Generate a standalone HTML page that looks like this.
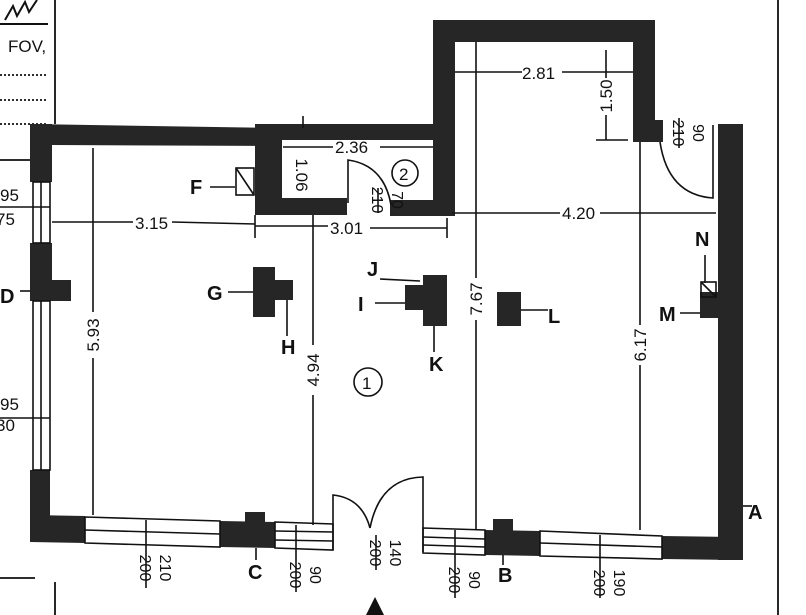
<!DOCTYPE html>
<html><head><meta charset="utf-8"><style>
html,body{margin:0;padding:0;background:#fff;width:806px;height:615px;overflow:hidden}
svg{display:block}
text{font-family:"Liberation Sans",sans-serif;fill:#111}
</style></head><body>
<svg width="806" height="615" viewBox="0 0 806 615" xmlns="http://www.w3.org/2000/svg">
<g stroke="#111" stroke-width="1.8" fill="none">
<line x1="55" y1="0" x2="55" y2="124"/>
<line x1="778" y1="0" x2="778" y2="615"/>
<line x1="0" y1="578" x2="35" y2="578"/>
<line x1="55" y1="582" x2="55" y2="615"/>
<line x1="0" y1="75" x2="48" y2="75" stroke-dasharray="2,2"/>
<line x1="0" y1="100" x2="48" y2="100" stroke-dasharray="2,2"/>
<line x1="0" y1="124" x2="48" y2="124" stroke-dasharray="2,2"/>
<path d="M5,20 l8,-14 l4,10 l8,-14 l4,10 l8,-12 M0,24 L48,24" stroke-width="2"/>
<line x1="0" y1="160" x2="30" y2="160"/>
</g>
<g fill="#262626">
<rect x="30" y="124" width="22" height="58"/>
<rect x="30" y="243" width="22" height="58"/>
<rect x="52" y="280" width="19" height="21"/>
<rect x="30" y="470" width="20" height="55"/>
<polygon points="30,124 275,128 275,146 52,145 30,145"/>
<rect x="255" y="124" width="27" height="90"/>
<rect x="275" y="124" width="165" height="16"/>
<rect x="255" y="198" width="92" height="17"/>
<rect x="390" y="200" width="55" height="16"/>
<rect x="433" y="20" width="22" height="196"/>
<rect x="433" y="20" width="222" height="22"/>
<rect x="633" y="20" width="22" height="122"/>
<rect x="633" y="120" width="30" height="22"/>
<rect x="718" y="124" width="25" height="436"/>
<polygon points="30,515 85,516 85,543 30,542"/>
<polygon points="220,521 275,522 275,548 220,547"/>
<rect x="245" y="512" width="20" height="12"/>
<polygon points="485,530 540,531 540,556 485,555"/>
<rect x="493" y="519" width="20" height="14"/>
<polygon points="662,536 735,537 735,560 662,559"/>
<rect x="253" y="267" width="22" height="50"/>
<rect x="273" y="280" width="20" height="20"/>
<rect x="405" y="285" width="22" height="25"/>
<rect x="423" y="275" width="24" height="51"/>
<rect x="497" y="292" width="24" height="34"/>
<rect x="700" y="292" width="18" height="26"/>
</g>
<g stroke="#111" stroke-width="1.6" fill="none">
<rect x="33" y="182" width="17" height="61"/><line x1="41" y1="182" x2="41" y2="243"/>
<rect x="33" y="301" width="17" height="169"/><line x1="41" y1="301" x2="41" y2="470"/>
<line x1="0" y1="207" x2="50" y2="207"/><line x1="0" y1="418" x2="50" y2="418"/>
<polygon points="85,517 220,521 220,547 85,543"/><line x1="85" y1="530" x2="220" y2="534"/>
<polygon points="275,522 333,524 333,550 275,548"/><line x1="275" y1="531" x2="333" y2="532"/><line x1="275" y1="540" x2="333" y2="541"/>
<polygon points="423,528 485,530 485,555 423,553"/><line x1="423" y1="537" x2="485" y2="539"/><line x1="423" y1="545" x2="485" y2="547"/>
<polygon points="540,531 662,536 662,559 540,556"/><line x1="540" y1="543" x2="662" y2="547"/>
<path d="M333,550 L333,495 Q362,498 370,528"/>
<path d="M423,552 L423,477 Q380,478 370,528"/>
<path d="M348,203 L348,160 Q384,165 391,205"/>
<path d="M713,125 L713,198 Q668,195 660,142"/>
<line x1="455" y1="72" x2="522" y2="72"/><line x1="562" y1="72" x2="633" y2="72"/>
<line x1="606" y1="50" x2="606" y2="78"/><line x1="606" y1="115" x2="606" y2="140"/><line x1="596" y1="140" x2="628" y2="140"/>
<line x1="452" y1="213" x2="560" y2="213"/><line x1="600" y1="213" x2="716" y2="213"/>
<line x1="476" y1="42" x2="476" y2="278"/><line x1="476" y1="320" x2="476" y2="530"/>
<line x1="640" y1="142" x2="640" y2="325"/><line x1="640" y1="365" x2="640" y2="530"/>
<line x1="93" y1="148" x2="93" y2="312"/><line x1="93" y1="358" x2="93" y2="515"/>
<line x1="313" y1="215" x2="313" y2="345"/><line x1="313" y1="395" x2="313" y2="525"/>
<line x1="52" y1="222" x2="133" y2="222"/><line x1="172" y1="222" x2="255" y2="224"/>
<line x1="255" y1="226" x2="328" y2="226"/><line x1="370" y1="228" x2="447" y2="228"/>
<line x1="255" y1="215" x2="255" y2="238"/><line x1="447" y1="218" x2="447" y2="238"/>
<line x1="283" y1="147" x2="333" y2="147"/><line x1="380" y1="147" x2="433" y2="147"/>
<line x1="303" y1="116" x2="303" y2="128"/>
<circle cx="405" cy="173" r="13"/><circle cx="368" cy="382" r="14"/>
<line x1="210" y1="187" x2="235" y2="187"/>
<rect x="236" y="168" width="18" height="27"/><line x1="236" y1="168" x2="254" y2="195"/>
<line x1="228" y1="292" x2="253" y2="292"/>
<line x1="287" y1="300" x2="287" y2="336"/>
<line x1="380" y1="279" x2="420" y2="281"/>
<line x1="375" y1="303" x2="405" y2="303"/>
<line x1="434" y1="326" x2="434" y2="352"/>
<line x1="521" y1="310" x2="548" y2="310"/>
<line x1="705" y1="255" x2="705" y2="283"/>
<rect x="701" y="282" width="15" height="15"/><line x1="701" y1="282" x2="716" y2="297"/>
<line x1="680" y1="313" x2="700" y2="313"/>
<line x1="743" y1="506" x2="752" y2="506"/>
<line x1="256" y1="548" x2="256" y2="560"/>
<line x1="503" y1="555" x2="503" y2="565"/>
<line x1="20" y1="291" x2="30" y2="291"/>
<line x1="146" y1="520" x2="146" y2="588"/>
<line x1="296" y1="525" x2="296" y2="592"/>
<line x1="376" y1="535" x2="376" y2="570"/>
<line x1="455" y1="530" x2="455" y2="598"/>
<line x1="600" y1="535" x2="600" y2="598"/>
<line x1="378" y1="188" x2="378" y2="213"/>
<line x1="679" y1="118" x2="679" y2="148"/>
</g>
<g font-size="17">
<text x="8" y="52">FOV,</text>
<text x="0" y="201">95</text><text x="-4" y="225">75</text>
<text x="0" y="410">95</text><text x="-4" y="431">30</text>
<text x="135" y="229">3.15</text>
<text x="330" y="234">3.01</text>
<text x="335" y="153">2.36</text>
<text x="522" y="79">2.81</text>
<text x="562" y="219">4.20</text>
<text x="362" y="389">1</text>
<text x="399" y="180">2</text>
<g font-weight="bold" font-size="20">
<text x="190" y="194">F</text><text x="207" y="300">G</text><text x="281" y="354">H</text>
<text x="367" y="276">J</text><text x="358" y="311">I</text><text x="429" y="371">K</text>
<text x="548" y="323">L</text><text x="659" y="321">M</text><text x="695" y="246">N</text>
<text x="0" y="303">D</text><text x="748" y="519">A</text>
<text x="248" y="579">C</text><text x="498" y="582">B</text>
</g>
<text transform="translate(99,335) rotate(-90)" text-anchor="middle">5.93</text>
<text transform="translate(319,370) rotate(-90)" text-anchor="middle">4.94</text>
<text transform="translate(482,299) rotate(-90)" text-anchor="middle">7.67</text>
<text transform="translate(646,345) rotate(-90)" text-anchor="middle">6.17</text>
<text transform="translate(612,96) rotate(-90)" text-anchor="middle">1.50</text>
<text transform="translate(296,175) rotate(90)" text-anchor="middle">1.06</text>
<g font-size="16">
<text transform="translate(372,200) rotate(90)" text-anchor="middle">210</text>
<text transform="translate(392,200) rotate(90)" text-anchor="middle">70</text>
<text transform="translate(673,133) rotate(90)" text-anchor="middle">210</text>
<text transform="translate(693,133) rotate(90)" text-anchor="middle">90</text>
<text transform="translate(140,568) rotate(90)" text-anchor="middle">200</text>
<text transform="translate(160,568) rotate(90)" text-anchor="middle">210</text>
<text transform="translate(290,575) rotate(90)" text-anchor="middle">200</text>
<text transform="translate(310,575) rotate(90)" text-anchor="middle">90</text>
<text transform="translate(370,553) rotate(90)" text-anchor="middle">200</text>
<text transform="translate(390,553) rotate(90)" text-anchor="middle">140</text>
<text transform="translate(449,580) rotate(90)" text-anchor="middle">200</text>
<text transform="translate(469,580) rotate(90)" text-anchor="middle">90</text>
<text transform="translate(594,583) rotate(90)" text-anchor="middle">200</text>
<text transform="translate(614,583) rotate(90)" text-anchor="middle">190</text>
</g>
</g>
<polygon points="375,597 366,615 384,615" fill="#111"/>
</svg>
</body></html>
